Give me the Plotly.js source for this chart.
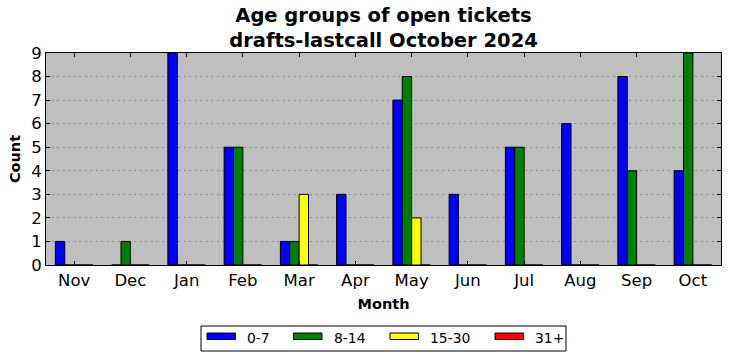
<!DOCTYPE html>
<html>
<head>
<meta charset="utf-8">
<script src="https://cdn.plot.ly/plotly-3.0.1.min.js"></script>
<style>html,body{margin:0;padding:0;background:#fff;}#chart{width:731px;height:361px;}</style>
</head>
<body>
<div id="chart"></div>
<script>
const months = ["Nov","Dec","Jan","Feb","Mar","Apr","May","Jun","Jul","Aug","Sep","Oct"];
const age0to7   = [1,0,9,5,1,3,7,3,5,6,8,4];
const age8to14  = [0,1,0,5,1,0,8,0,5,0,4,9];
const age15to30 = [0,0,0,0,3,0,2,0,0,0,0,0];
const age31plus = [0,0,0,0,0,0,0,0,0,0,0,0];
const seriesNames = ["0-7","8-14","15-30","31+"];
const seriesColors = ["#0000ff","#008000","#ffff00","#ff0000"];
const seriesValues = [age0to7, age8to14, age15to30, age31plus];

const font = "DejaVu Sans, Liberation Sans, sans-serif";
const W = 731, H = 361;
const M = {l: 46, r: 10, t: 53, b: 96};
const pw = W - M.l - M.r, ph = H - M.t - M.b;
const px2x = px => (px - M.l) / pw;
const py2y = py => (H - M.b - py) / ph;

const traces = seriesValues.map((vals, i) => ({
  type: "bar",
  x: months,
  y: vals,
  name: seriesNames[i],
  marker: {color: seriesColors[i], line: {color: "#000000", width: 1}},
  hoverinfo: "skip",
  showlegend: false
}));

// Custom legend (matplotlib-like wide patches)
const patchLeft = [207, 293.5, 390, 495];
const textLeft = [245, 331.5, 427.5, 533];
const shapes = [{
  type: "rect", xref: "paper", yref: "paper",
  x0: px2x(201), x1: px2x(566), y0: py2y(351), y1: py2y(326),
  line: {color: "#000000", width: 1}, fillcolor: "#ffffff", layer: "above"
}];
const annotations = [];
seriesNames.forEach((n, i) => {
  shapes.push({
    type: "rect", xref: "paper", yref: "paper",
    x0: px2x(patchLeft[i]), x1: px2x(patchLeft[i] + 28.5),
    y0: py2y(339.5), y1: py2y(333),
    line: {color: "#000000", width: 1}, fillcolor: seriesColors[i], layer: "above"
  });
  annotations.push({
    xref: "paper", yref: "paper", x: px2x(textLeft[i]), y: py2y(338),
    xanchor: "left", yanchor: "middle", showarrow: false,
    text: n, font: {family: font, size: 13.9, color: "#000000"}
  });
});

const layout = {
  width: W, height: H,
  margin: {l: M.l, r: M.r, t: M.t, b: M.b, pad: 0, autoexpand: false},
  paper_bgcolor: "#ffffff",
  plot_bgcolor: "#bfbfbf",
  barmode: "group",
  bargap: 1/3,
  bargroupgap: 0,
  font: {family: font, color: "#000000"},
  title: {
    text: "<b>Age groups of open tickets<br>drafts-lastcall October 2024</b>",
    font: {family: font, size: 19.5, color: "#000000"},
    x: 0.5246, xanchor: "center",
    y: 1 - 22/361, yanchor: "middle", yref: "container"
  },
  xaxis: {
    type: "category",
    range: [-0.5, 11.5],
    showline: true, linecolor: "#000000", linewidth: 1, mirror: "ticks",
    ticks: "inside", ticklen: 4, tickcolor: "#000000",
    showgrid: false, zeroline: false,
    tickfont: {family: font, size: 16.5, color: "#000000"},
    title: {text: "<b>Month</b>", font: {family: font, size: 14.5, color: "#000000"}, standoff: 10}
  },
  yaxis: {
    range: [0, 9], dtick: 1, tick0: 0,
    showline: true, linecolor: "#000000", linewidth: 1, mirror: "ticks",
    ticks: "inside", ticklen: 4, tickcolor: "#000000",
    showgrid: true, gridcolor: "#8c8c8c", griddash: "2px,3.5px", gridwidth: 1,
    zeroline: false,
    tickfont: {family: font, size: 16.5, color: "#000000"},
    title: {text: "<b>Count</b>", font: {family: font, size: 14.5, color: "#000000"}, standoff: 7}
  },
  shapes: shapes,
  annotations: annotations,
  showlegend: false
};

Plotly.newPlot("chart", traces, layout, {displayModeBar: false, staticPlot: true});
</script>
</body>
</html>
